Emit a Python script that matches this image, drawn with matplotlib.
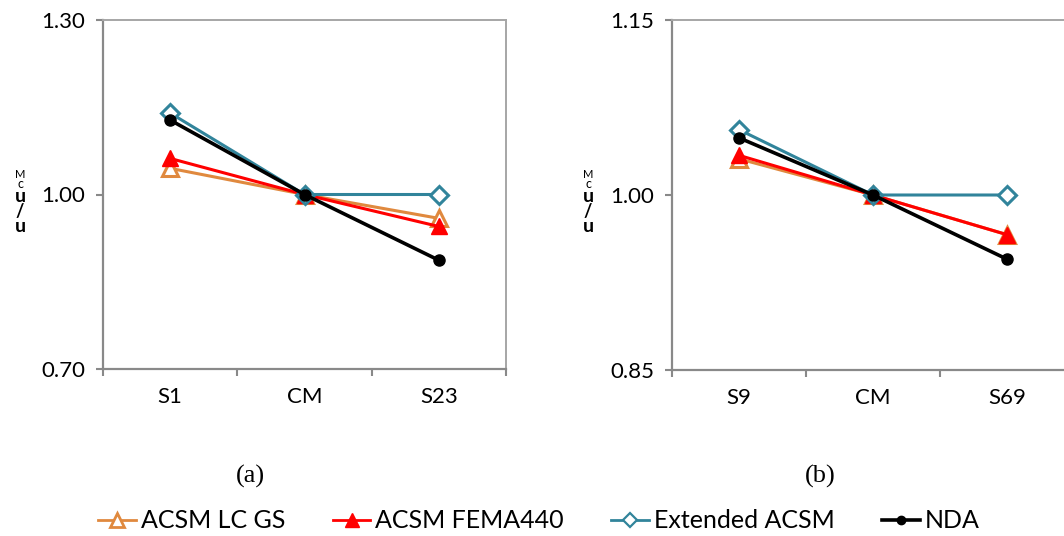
import matplotlib.pyplot as plt
from matplotlib.lines import Line2D

# dados normalizados (u / u_CM) para cada metodo
cats_a = ['S1', 'CM', 'S23']
cats_b = ['S9', 'CM', 'S69']

lcgs_a = [1.045, 1.00, 0.959]
fema_a = [1.062, 1.00, 0.945]
ext_a = [1.140, 1.00, 1.000]
nda_a = [1.128, 1.00, 0.887]

lcgs_b = [1.031, 1.00, 0.966]
fema_b = [1.034, 1.00, 0.966]
ext_b = [1.056, 1.00, 1.000]
nda_b = [1.049, 1.00, 0.945]

yticks_a = [0.70, 1.00, 1.30]
yticks_b = [0.85, 1.00, 1.15]

cor_lcgs = '#E0893E'
cor_fema = '#FF0000'
cor_ext = '#31849B'
cor_nda = '#000000'

plt.rcParams['font.family'] = ['Lato', 'DejaVu Sans']

W, H = 1064, 536
fig = plt.figure(figsize=(W / 100, H / 100), dpi=100)


def px(x0, y0, x1, y1):
    # converte caixa em pixels para coordenadas da figura
    return [x0 / W, 1 - y1 / H, (x1 - x0) / W, (y1 - y0) / H]


ax1 = fig.add_axes(px(103, 20, 506, 369))
ax2 = fig.add_axes(px(672, 20, 1074, 370))


def desenha(ax, cats, lcgs, fema, ext, nda, yticks):
    x = range(len(cats))
    ax.plot(x, lcgs, color=cor_lcgs, lw=2.2, marker='^', ms=12,
            mfc='white', mec=cor_lcgs, mew=2.2)
    ax.plot(x, fema, color=cor_fema, lw=2.2, marker='^', ms=12,
            mfc=cor_fema, mec=cor_fema)
    ax.plot(x, ext, color=cor_ext, lw=2.2, marker='D', ms=9,
            mfc='white', mec=cor_ext, mew=2.2)
    ax.plot(x, nda, color=cor_nda, lw=2.6, marker='o', ms=8)
    ax.set_xlim(-0.5, len(cats) - 0.5)
    ax.set_ylim(yticks[0], yticks[-1])
    ax.set_yticks(yticks)
    ax.set_yticklabels(['%.2f' % v for v in yticks], fontsize=16)
    ax.set_xticks([i - 0.5 for i in range(len(cats) + 1)])
    ax.set_xticklabels([])
    ax.set_xticks(list(x), minor=True)
    ax.set_xticklabels(cats, minor=True, fontsize=16)
    ax.tick_params(axis='x', which='major', direction='out', length=5,
                   width=1.5, color='#898989')
    ax.tick_params(axis='x', which='minor', length=0, pad=13)
    ax.tick_params(axis='y', direction='out', length=5, width=1.5,
                   color='#898989', pad=8)
    for s in ['left', 'bottom']:
        ax.spines[s].set_color('#898989')
        ax.spines[s].set_linewidth(1.6)
    for s in ['top', 'right']:
        ax.spines[s].set_color('#A6A6A6')
        ax.spines[s].set_linewidth(1.4)


desenha(ax1, cats_a, lcgs_a, fema_a, ext_a, nda_a, yticks_a)
desenha(ax2, cats_b, lcgs_b, fema_b, ext_b, nda_b, yticks_b)

# rotulo do eixo y empilhado
for xl in [20, 588]:
    fig.text(xl / W, 1 - 174 / H, 'M', fontsize=8, ha='center', va='center')
    fig.text(xl / W, 1 - 184 / H, 'c', fontsize=9, ha='center', va='center')
    fig.text(xl / W, 1 - 197 / H, 'u', fontsize=14, ha='center', va='center',
             fontweight='bold')
    fig.text(xl / W, 1 - 212 / H, '/', fontsize=13, ha='center', va='center',
             fontweight='bold')
    fig.text(xl / W, 1 - 227 / H, 'u', fontsize=14, ha='center', va='center',
             fontweight='bold')

fig.text(250 / W, 1 - 476 / H, '(a)', fontsize=19, family='Liberation Serif',
         ha='center', va='center')
fig.text(820 / W, 1 - 476 / H, '(b)', fontsize=19, family='Liberation Serif',
         ha='center', va='center')

handles = [
    Line2D([], [], color=cor_lcgs, lw=2, marker='^', ms=10, mfc='white',
           mec=cor_lcgs, mew=2),
    Line2D([], [], color=cor_fema, lw=2, marker='^', ms=10, mfc=cor_fema,
           mec=cor_fema),
    Line2D([], [], color=cor_ext, lw=2, marker='D', ms=7, mfc='white',
           mec=cor_ext, mew=1.6),
    Line2D([], [], color=cor_nda, lw=2.6, marker='o', ms=6),
]
labels = ['ACSM LC GS', 'ACSM FEMA440', 'Extended ACSM', 'NDA']
fig.legend(handles, labels, loc='center', bbox_to_anchor=(539 / W, 1 - 521 / H),
           ncol=4, frameon=False, fontsize=18, handlelength=1.5,
           handletextpad=0.2, columnspacing=1.9, borderpad=0)

fig.savefig('out.png', dpi=100)
plt.close()
